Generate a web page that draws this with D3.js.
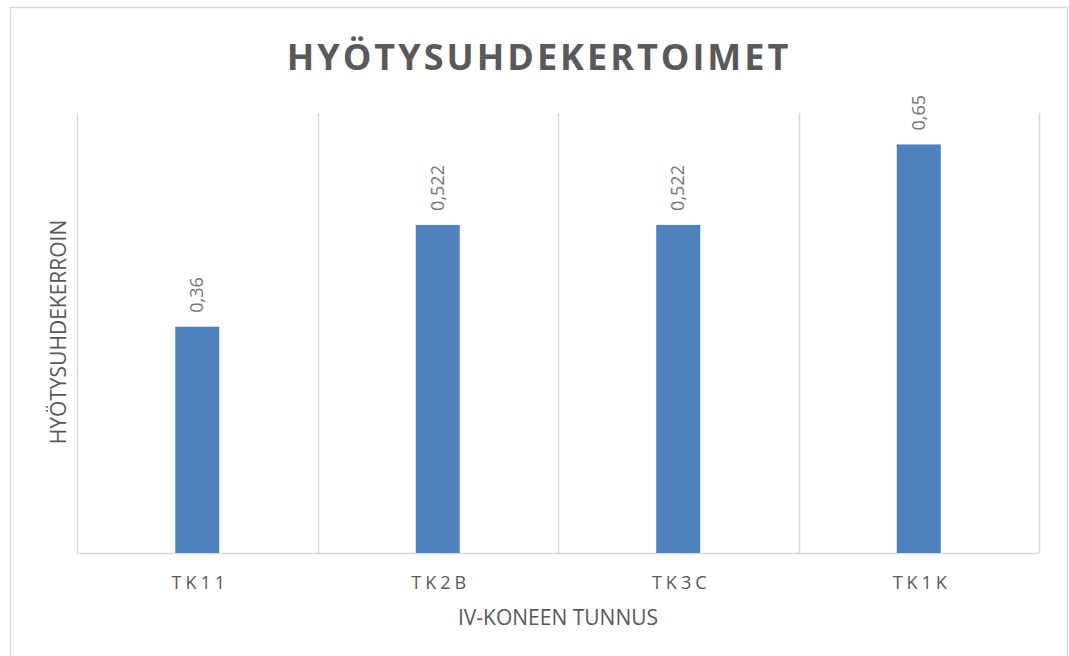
<!DOCTYPE html>
<html>
<head>
<meta charset="utf-8">
<script src="https://cdn.jsdelivr.net/npm/d3@7"></script>
<style>
  body { margin: 0; background: #fff; }
  svg { display: block; }
  text { font-family: "Open Sans", "Noto Sans", sans-serif; fill: #595959; }
</style>
</head>
<body>
<div id="chart"></div>
<script>
"use strict";

var categories = ["TK11", "TK2B", "TK3C", "TK1K"];
var values = [0.36, 0.522, 0.522, 0.65];
var valueLabels = ["0,36", "0,522", "0,522", "0,65"];

var width = 1069,
    height = 656,
    plotLeft = 77,
    plotRight = 1039,
    plotTop = 113,
    plotBottom = 553;

var svg = d3.select("#chart")
    .append("svg")
    .attr("width", width)
    .attr("height", height);

// outer frame (bottom edge falls outside the picture)
svg.append("rect")
    .attr("x", 10.5)
    .attr("y", 7.5)
    .attr("width", 1057)
    .attr("height", 660)
    .attr("fill", "none")
    .attr("stroke", "#d9d9d9")
    .attr("stroke-width", 1.5);

var x = d3.scaleBand()
    .domain(categories)
    .range([plotLeft, plotRight]);

var y = d3.scaleLinear()
    .domain([0, 0.7])
    .range([plotBottom, plotTop]);

// vertical gridlines at category boundaries
var bounds = categories.map(function(c) { return x(c); }).concat([plotRight]);
svg.append("g")
    .selectAll("line")
    .data(bounds)
    .enter()
    .append("line")
    .attr("x1", function(d) { return Math.round(d) + 0.5; })
    .attr("x2", function(d) { return Math.round(d) + 0.5; })
    .attr("y1", plotTop)
    .attr("y2", plotBottom)
    .attr("stroke", "#d9d9d9")
    .attr("stroke-width", 1.5);

// baseline
svg.append("line")
    .attr("x1", plotLeft)
    .attr("x2", plotRight)
    .attr("y1", plotBottom + 0.5)
    .attr("y2", plotBottom + 0.5)
    .attr("stroke", "#d9d9d9")
    .attr("stroke-width", 1.5);

var barW = x.bandwidth() * 0.183;

svg.append("g")
    .selectAll("rect")
    .data(values)
    .enter()
    .append("rect")
    .attr("x", function(d, i) { return x(categories[i]) + x.bandwidth() / 2 - barW / 2; })
    .attr("y", function(d) { return y(d); })
    .attr("width", barW)
    .attr("height", function(d) { return y(0) - y(d); })
    .attr("fill", "#4f81bd");

// rotated value labels
svg.append("g")
    .selectAll("text")
    .data(values)
    .enter()
    .append("text")
    .attr("transform", function(d, i) {
        var cx = x(categories[i]) + x.bandwidth() / 2 + 6;
        return "translate(" + cx + "," + (y(d) - 14) + ") rotate(-90)";
    })
    .attr("font-size", "18px")
    .style("fill", "#757575")
    .text(function(d, i) { return valueLabels[i]; });

// category tick labels
svg.append("g")
    .selectAll("text")
    .data(categories)
    .enter()
    .append("text")
    .attr("x", function(d) { return x(d) + x.bandwidth() / 2 + 3; })
    .attr("y", 589)
    .attr("text-anchor", "middle")
    .attr("font-size", "18px")
    .attr("letter-spacing", "4px")
    .text(function(d) { return d; });

// title
svg.append("text")
    .attr("x", 539)
    .attr("y", 70)
    .attr("text-anchor", "middle")
    .attr("font-size", "36px")
    .attr("font-weight", "bold")
    .attr("letter-spacing", "3px")
    .text("HYÖTYSUHDEKERTOIMET");

// axis titles
svg.append("text")
    .attr("x", 558)
    .attr("y", 625)
    .attr("text-anchor", "middle")
    .attr("font-size", "21px")
    .text("IV-KONEEN TUNNUS");

svg.append("text")
    .attr("transform", "translate(66,332) rotate(-90)")
    .attr("text-anchor", "middle")
    .attr("font-size", "21px")
    .text("HYÖTYSUHDEKERROIN");
</script>
</body>
</html>
